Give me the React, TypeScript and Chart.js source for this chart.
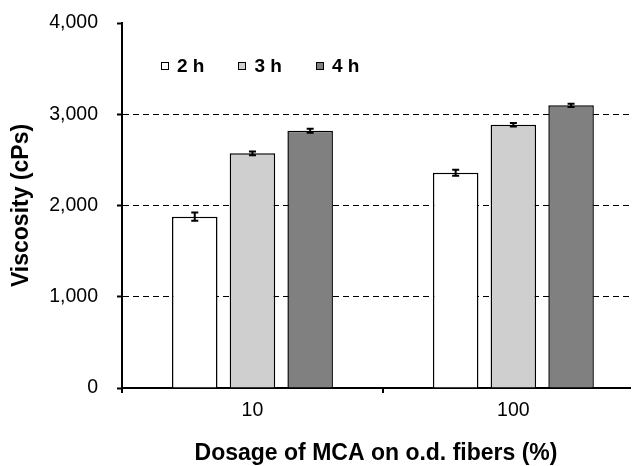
import React, { useEffect, useRef } from "react";
import { Chart, registerables } from "chart.js";

Chart.register(...registerables);

const categories = ["10", "100"];
const seriesNames = ["2 h", "3 h", "4 h"];
const values2h = [1877, 2359];
const values3h = [2572, 2885];
const values4h = [2820, 3098];
const errors2h = [45, 33];
const errors3h = [20, 20];
const errors4h = [22, 18];
const yTicks = [0, 1000, 2000, 3000, 4000];

const FONT = '"Liberation Sans", Arial, Helvetica, sans-serif';

const errorBarPlugin = {
  id: "errorBars",
  afterDatasetsDraw(chart: any) {
    const ctx = chart.ctx;
    const yScale = chart.scales.y;
    chart.data.datasets.forEach((ds: any, i: number) => {
      const meta = chart.getDatasetMeta(i);
      meta.data.forEach((el: any, j: number) => {
        const v = ds.data[j].y;
        const e = ds.errors[j];
        const yTop = yScale.getPixelForValue(v + e);
        const yBot = yScale.getPixelForValue(v - e);
        const x = el.x;
        ctx.save();
        ctx.strokeStyle = "#000";
        ctx.lineWidth = 2;
        ctx.beginPath();
        ctx.moveTo(x, yTop);
        ctx.lineTo(x, yBot);
        ctx.moveTo(x - 3.5, yTop);
        ctx.lineTo(x + 3.5, yTop);
        ctx.moveTo(x - 3.5, yBot);
        ctx.lineTo(x + 3.5, yBot);
        ctx.stroke();
        ctx.restore();
      });
    });
  },
};

// Legend drawn inside the plot area (horizontal row, top-left), from dataset labels/colours
const insideLegendPlugin = {
  id: "insideLegend",
  afterDraw(chart: any) {
    const ctx = chart.ctx;
    const area = chart.chartArea;
    let x = area.left + 39;
    const yMid = area.top + 43;
    const box = 8;
    ctx.save();
    ctx.font = `bold 19px ${FONT}`;
    ctx.textBaseline = "middle";
    ctx.textAlign = "left";
    chart.data.datasets.forEach((ds: any) => {
      const bx = Math.round(x);
      const by = Math.round(yMid - box / 2);
      ctx.fillStyle = ds.backgroundColor;
      ctx.fillRect(bx, by, box, box);
      ctx.strokeStyle = "#000";
      ctx.lineWidth = 1;
      ctx.strokeRect(bx + 0.5, by + 0.5, box - 1, box - 1);
      const tx = x + box + 8;
      ctx.fillStyle = "#000";
      ctx.fillText(ds.label, tx, yMid + 1);
      const tw = ctx.measureText(ds.label).width;
      x = tx + tw + 34;
    });
    ctx.restore();
  },
};

export default function App() {
  const ref = useRef<HTMLCanvasElement>(null);
  useEffect(() => {
    if (!ref.current) return;
    const mk = (vals: number[]) => vals.map((v, i) => ({ x: i, y: v }));
    const chart = new Chart(ref.current, {
      type: "bar",
      data: {
        datasets: [
          { label: seriesNames[0], data: mk(values2h), errors: errors2h, backgroundColor: "#ffffff", borderColor: "#000", borderWidth: 1.5 } as any,
          { label: seriesNames[1], data: mk(values3h), errors: errors3h, backgroundColor: "#d0cfd0", borderColor: "#000", borderWidth: 1.5 } as any,
          { label: seriesNames[2], data: mk(values4h), errors: errors4h, backgroundColor: "#808080", borderColor: "#000", borderWidth: 1.5 } as any,
        ],
      },
      options: {
        responsive: false,
        animation: false,
        layout: { padding: { left: 0, right: 8, top: 23, bottom: 0 } },
        datasets: { bar: { categoryPercentage: 1.327, barPercentage: 0.789 } },
        scales: {
          x: {
            type: "linear",
            min: -0.5,
            max: 1.447,
            offset: false,
            afterBuildTicks: (s: any) => {
              s.ticks = [-0.5, 0, 0.5, 1].map((v) => ({ value: v }));
            },
            afterFit: (s: any) => {
              s.height = 78;
              s.paddingLeft = 0;
              s.paddingRight = 0;
            },
            grid: {
              offset: false,
              drawOnChartArea: false,
              drawTicks: true,
              tickLength: 5,
              color: (c: any) => (c.tick && (c.tick.value === 0.5 || c.tick.value === -0.5) ? "#000" : "rgba(0,0,0,0)"),
              lineWidth: 2,
            },
            border: { display: true, color: "#000", width: 2 },
            ticks: {
              padding: 6,
              autoSkip: false,
              maxRotation: 0,
              color: "#000",
              font: { family: FONT, size: 19.5 },
              callback: (v: any) => (Number.isInteger(v) ? categories[v] : ""),
            },
            title: {
              display: true,
              text: "Dosage of MCA on o.d. fibers (%)",
              color: "#000",
              font: { family: FONT, size: 23, weight: "bold", lineHeight: 1.1 },
              padding: { top: 0, bottom: 0 },
            },
          },
          y: {
            min: 0,
            max: 4000,
            afterBuildTicks: (s: any) => {
              s.ticks = yTicks.map((v) => ({ value: v }));
            },
            afterFit: (s: any) => {
              s.width = 122;
              s.paddingTop = 0;
              s.paddingBottom = 0;
            },
            grid: {
              drawTicks: true,
              tickLength: 5,
              lineWidth: 1,
              tickWidth: 2,
              tickColor: "#000",
              tickBorderDash: [],
              color: (c: any) => (c.tick && (c.tick.value === 0 || c.tick.value === 4000) ? "rgba(0,0,0,0)" : "#000"),
            },
            border: { display: true, color: "#000", width: 2, dash: [6, 4] },
            ticks: {
              padding: 19,
              color: "#000",
              font: { family: FONT, size: 19.5 },
              callback: (v: any) => Number(v).toLocaleString("en-US"),
            },
            title: {
              display: true,
              text: "Viscosity (cPs)",
              color: "#000",
              font: { family: FONT, size: 23, weight: "bold", lineHeight: 1.2 },
              padding: { top: 8, bottom: 0 },
            },
          },
        },
        plugins: {
          legend: { display: false },
          tooltip: { enabled: false },
        },
      } as any,
      plugins: [errorBarPlugin, insideLegendPlugin],
    });
    return () => chart.destroy();
  }, []);
  return (
    <div style={{ position: "fixed", left: 0, top: 0, width: 638, height: 466, background: "#fff" }}>
      <canvas ref={ref} width={638} height={466} style={{ display: "block" }} />
    </div>
  );
}
